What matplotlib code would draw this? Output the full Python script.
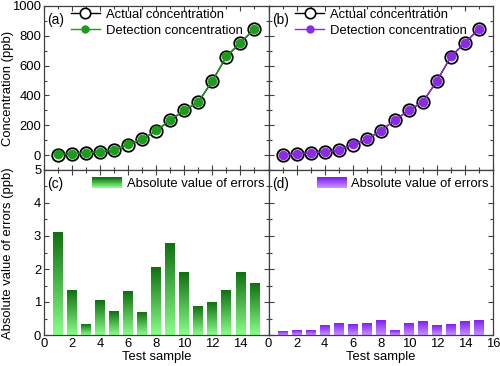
import numpy as np
import matplotlib
matplotlib.use('Agg')
import matplotlib.pyplot as plt
from matplotlib.colors import LinearSegmentedColormap, to_rgb
from matplotlib.legend_handler import HandlerBase
from matplotlib.patches import Rectangle
from matplotlib.lines import Line2D
from matplotlib.ticker import MultipleLocator, FuncFormatter

plt.rcParams['font.family'] = ['Liberation Sans', 'DejaVu Sans']
FS = 9.4

# ---------------- data ----------------
samples = list(range(1, 16))
actual = [2, 8, 16, 22, 31, 71, 105, 163, 234, 300, 356, 497, 661, 753, 846]
detect_a = [5.1, 9.3, 16.3, 23.1, 31.7, 72.3, 106.3, 165.1, 236.8, 301.9, 356.9, 498.0, 662.4, 754.9, 847.6]
detect_b = [2.1, 8.1, 16.2, 22.3, 31.3, 71.3, 105.4, 163.5, 234.2, 300.4, 356.4, 497.3, 661.3, 753.4, 846.5]
errors_c = [3.10, 1.34, 0.32, 1.05, 0.70, 1.31, 0.67, 2.06, 2.76, 1.90, 0.86, 0.99, 1.36, 1.88, 1.56]
errors_d = [0.12, 0.13, 0.15, 0.28, 0.34, 0.31, 0.35, 0.45, 0.15, 0.35, 0.40, 0.28, 0.32, 0.42, 0.45]

green_line = '#1e9a1e'
purple_line = '#8a2be2'
green_top, green_bot = '#107010', '#88ff88'
purple_top, purple_bot = '#8020f0', '#c890ff'
spine_col = '#404040'

# ---------------- layout ----------------
fig = plt.figure(figsize=(5, 3.66), dpi=100)
L, M, R = 44/500, 268.5/500, 493/500
B, Mid, T = 31/366, 196/366, 360/366
axa = fig.add_axes([L, Mid, M-L, T-Mid])
axb = fig.add_axes([M, Mid, R-M, T-Mid])
axc = fig.add_axes([L, B, M-L, Mid-B])
axd = fig.add_axes([M, B, R-M, Mid-B])


class GradHandler(HandlerBase):
    def __init__(self, top, bottom, n=14):
        super().__init__()
        self.top = np.array(to_rgb(top))
        self.bottom = np.array(to_rgb(bottom))
        self.n = n

    def create_artists(self, legend, orig_handle, xdescent, ydescent,
                       width, height, fontsize, trans):
        arts = []
        for i in range(self.n):
            f = i / (self.n - 1)
            c = self.bottom * (1 - f) + self.top * f
            arts.append(Rectangle((-xdescent, -ydescent + i * height / self.n),
                                  width, height / self.n + 0.01, fc=c, ec='none',
                                  transform=trans))
        return arts


def style(ax, ymaj, ymin, xlabels, ylabels, hide16=False):
    ax.set_xlim(0, 16)
    ax.xaxis.set_major_locator(MultipleLocator(2))
    ax.xaxis.set_minor_locator(MultipleLocator(1))
    ax.yaxis.set_major_locator(MultipleLocator(ymaj))
    ax.yaxis.set_minor_locator(MultipleLocator(ymin))
    ax.tick_params(which='both', direction='in', top=True, right=True,
                   labelsize=FS, colors=spine_col, labelcolor='black', width=0.8)
    ax.tick_params(which='major', length=3.5)
    ax.tick_params(which='minor', length=2)
    ax.tick_params(axis='x', pad=2)
    ax.tick_params(axis='y', pad=2)
    if hide16:
        ax.xaxis.set_major_formatter(FuncFormatter(
            lambda v, p: '' if v >= 15.5 else f'{v:g}'))
    if not xlabels:
        ax.tick_params(labelbottom=False)
    if not ylabels:
        ax.tick_params(labelleft=False)
    for s in ax.spines.values():
        s.set_color(spine_col)
        s.set_linewidth(0.9)


def conc_panel(ax, detect, col, tag, ylabels):
    ax.plot(samples, actual, '-', color='black', lw=1.0, marker='o', ms=9,
            mfc='none', mec='black', mew=1.3, zorder=3)
    ax.plot(samples, detect, '-', color=col, lw=1.0, marker='o', ms=6.5,
            mfc=col, mec=col, mew=0.5, zorder=4)
    ax.set_ylim(-100, 1000)
    style(ax, 200, 100, False, ylabels)
    h1 = Line2D([], [], color='black', lw=1.0, marker='o', ms=7.5, mfc='white',
                mec='black', mew=1.2)
    h2 = Line2D([], [], color=col, lw=1.0, marker='o', ms=5, mfc=col, mec=col)
    ax.legend([h1, h2], ['Actual concentration', 'Detection concentration'],
              loc='upper left', bbox_to_anchor=(0.12, 0.985), frameon=False,
              fontsize=FS, handlelength=2.2, handletextpad=0.45,
              borderpad=0.0, borderaxespad=0.0, labelspacing=0.3)
    ax.text(0.015, 0.955, tag, transform=ax.transAxes, fontsize=FS + 0.5,
            va='top', ha='left')


def err_panel(ax, errs, top, bot, tag, ylabels, hide16):
    bars = ax.bar(samples, errs, width=0.7, color='none', ec='none', zorder=2)
    cmap = LinearSegmentedColormap.from_list('g', [bot, top])
    grad = np.linspace(0, 1, 256).reshape(-1, 1)
    for b in bars:
        x0 = b.get_x()
        ax.imshow(grad, extent=[x0, x0 + b.get_width(), 0, b.get_height()],
                  origin='lower', cmap=cmap, aspect='auto', zorder=2,
                  interpolation='bilinear')
    ax.set_ylim(0, 5)
    style(ax, 1, 0.5, True, ylabels, hide16)
    proxy = Rectangle((0, 0), 1, 1)
    ax.legend([proxy], ['Absolute value of errors'],
              handler_map={Rectangle: GradHandler(top, bot)},
              loc='upper left', bbox_to_anchor=(0.215, 0.955), frameon=False,
              fontsize=FS, handlelength=2.3, handleheight=0.85,
              handletextpad=0.35, borderpad=0.0, borderaxespad=0.0)
    ax.text(0.015, 0.955, tag, transform=ax.transAxes, fontsize=FS + 0.5,
            va='top', ha='left')
    ax.set_xlabel('Test sample', fontsize=FS, labelpad=1)


conc_panel(axa, detect_a, green_line, '(a)', True)
conc_panel(axb, detect_b, purple_line, '(b)', False)
err_panel(axc, errors_c, green_top, green_bot, '(c)', True, True)
err_panel(axd, errors_d, purple_top, purple_bot, '(d)', False, False)

fig.text(8/500, 278/366, 'Concentration (ppb)', rotation=90, fontsize=FS,
         ha='center', va='center')
fig.text(8/500, 113/366, 'Absolute value of errors (ppb)', rotation=90,
         fontsize=FS, ha='center', va='center')

fig.savefig('out.png', dpi=100)
